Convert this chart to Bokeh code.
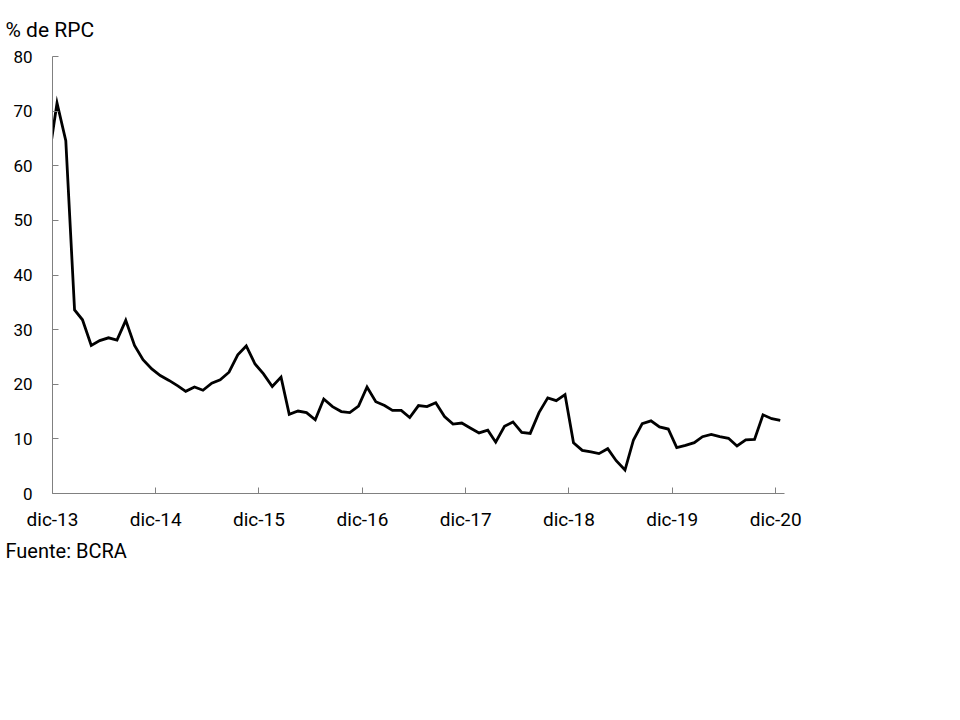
import pandas as pd
from bokeh.plotting import figure
from bokeh.models import FixedTicker, DatetimeTickFormatter, Range1d, Title
from bokeh.embed import file_html
from bokeh.resources import INLINE

# Monthly observations, Nov-2013 .. Dec-2020 (% de RPC)
months = pd.date_range("2013-11-01", periods=86, freq="MS") + pd.Timedelta(days=16)
values = [
    61.0,
    71.5, 64.6, 33.6, 31.8, 27.1, 28.0, 28.5, 28.1, 31.7, 27.1, 24.5, 22.8,
    21.6, 20.7, 19.7, 18.7, 19.5, 18.9, 20.2, 20.8, 22.2, 25.4, 27.0, 23.7,
    21.9, 19.6, 21.3, 14.5, 15.1, 14.8, 13.5, 17.3, 15.9, 15.0, 14.8, 16.0,
    19.5, 16.8, 16.1, 15.2, 15.2, 13.9, 16.1, 15.9, 16.6, 14.1, 12.7, 12.9,
    12.0, 11.1, 11.6, 9.4, 12.3, 13.1, 11.2, 11.0, 14.8, 17.5, 17.0, 18.1,
    9.3, 7.9, 7.6, 7.3, 8.2, 6.0, 4.3, 9.8, 12.8, 13.3, 12.2, 11.8,
    8.4, 8.8, 9.3, 10.4, 10.8, 10.4, 10.1, 8.7, 9.8, 9.9, 14.4, 13.7, 13.4,
]
tick_dates = pd.to_datetime(["2013-12-01", "2014-12-01", "2015-12-01", "2016-12-01",
                             "2017-12-01", "2018-12-01", "2019-12-01", "2020-12-01"])
y_ticks = [0, 10, 20, 30, 40, 50, 60, 70, 80]
title_text = "% de RPC"
source_text = "Fuente: BCRA"

FONT = "Roboto"
AXIS_COLOR = "#808080"

p = figure(width=944, height=600, output_backend="svg", toolbar_location=None,
           x_axis_type="datetime",
           x_range=Range1d(pd.Timestamp("2013-12-01"), pd.Timestamp("2021-01-01")),
           y_range=Range1d(0, 80),
           min_border_left=52, min_border_right=160, min_border_top=56, min_border_bottom=107)
p.outline_line_color = None
p.grid.visible = False

p.line(months, values, line_color="black", line_width=2.8, line_join="miter")

p.xaxis.ticker = FixedTicker(ticks=[t.timestamp() * 1000 for t in tick_dates])
fmt = "dic-%y"
p.xaxis.formatter = DatetimeTickFormatter(years=fmt, months=fmt, days=fmt, hours=fmt,
                                          minutes=fmt, seconds=fmt, milliseconds=fmt,
                                          microseconds=fmt, hourmin=fmt, minsec=fmt)
p.yaxis.ticker = FixedTicker(ticks=y_ticks)

for ax in (p.xaxis[0], p.yaxis[0]):
    ax.axis_line_color = AXIS_COLOR
    ax.axis_line_width = 1
    ax.major_tick_line_color = AXIS_COLOR
    ax.major_tick_in = 6
    ax.major_tick_out = 0
    ax.minor_tick_line_color = None
    ax.major_label_text_font = FONT
    ax.major_label_text_color = "black"

p.xaxis.major_label_text_font_size = "19px"
p.yaxis.major_label_text_font_size = "17px"
p.xaxis.major_label_standoff = 14
p.yaxis.major_label_standoff = 20

p.add_layout(Title(text=title_text, align="left", offset=-47, text_font=FONT,
                   text_font_size="21px", text_font_style="normal", text_color="black",
                   standoff=29), "above")
p.add_layout(Title(text=source_text, align="left", offset=-47, text_font=FONT,
                   text_font_size="20px", text_font_style="normal", text_color="black",
                   standoff=7), "below")

open("out.html", "w").write(file_html(p, INLINE))
